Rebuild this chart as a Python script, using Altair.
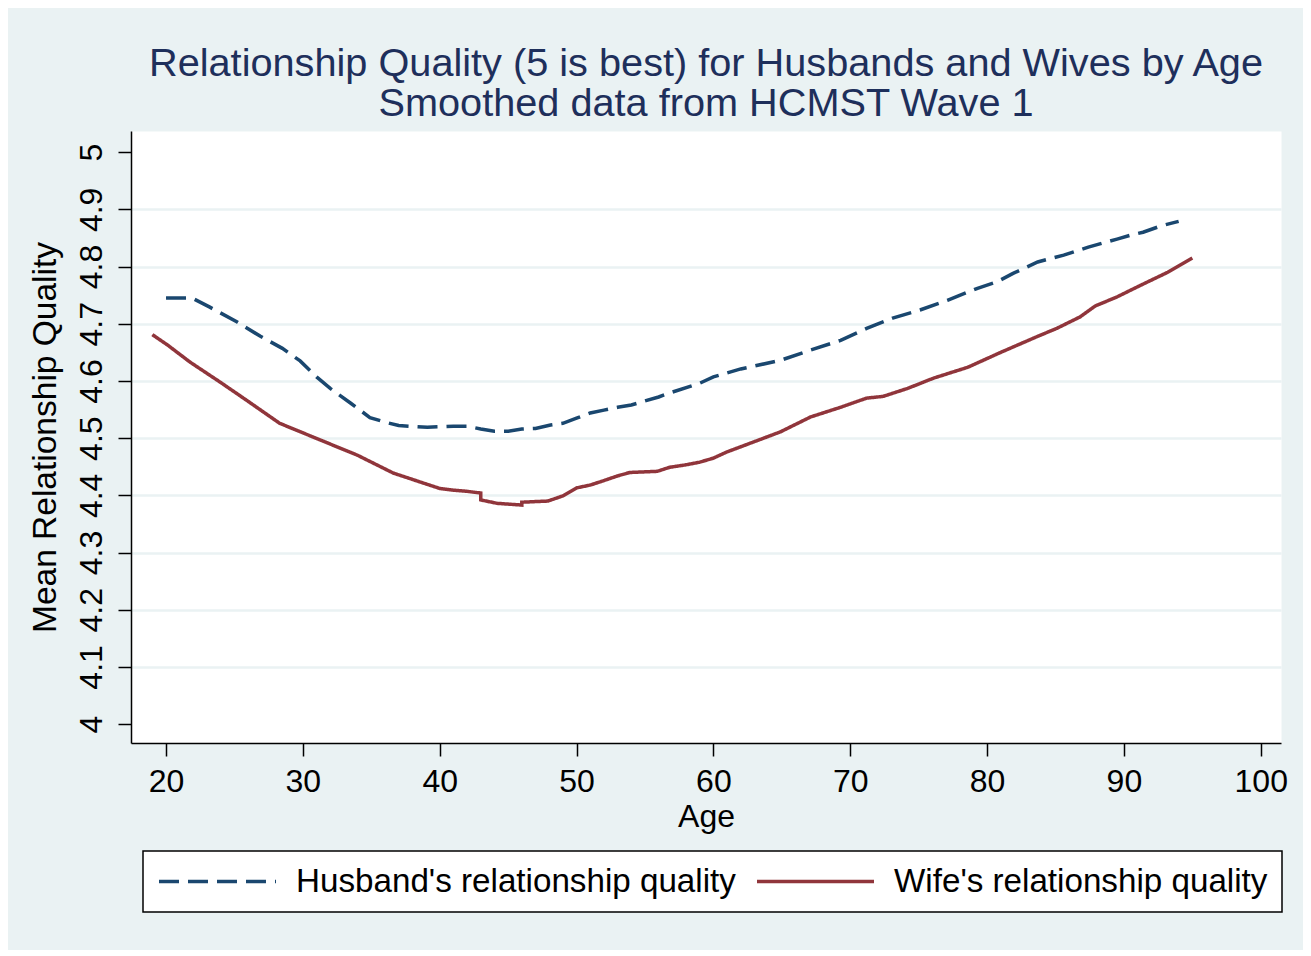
import altair as alt
import pandas as pd

hus_age = [20.0, 21.9, 23.2, 25.2, 26.9, 28.5, 29.8, 31.0, 32.0, 33.5, 34.9, 36.0, 37.0, 39.1,
           41.0, 42.0, 43.0, 44.0, 45.0, 46.0, 47.0, 48.1, 49.0, 50.0, 51.0, 52.0, 53.0, 54.0,
           55.0, 56.0, 56.8, 59.0, 60.0, 62.0, 64.9, 67.1, 69.3, 71.2, 73.1, 75.1, 77.1, 79.3,
           80.7, 81.9, 83.7, 85.6, 87.4, 89.5, 90.5, 91.4, 92.7, 94.0]
hus_q = [4.745, 4.745, 4.729, 4.703, 4.678, 4.657, 4.635, 4.607, 4.587, 4.561, 4.536, 4.528, 4.522, 4.519,
         4.521, 4.521, 4.516, 4.512, 4.512, 4.516, 4.517, 4.523, 4.526, 4.535, 4.544, 4.549, 4.554, 4.558,
         4.565, 4.572, 4.579, 4.596, 4.607, 4.621, 4.636, 4.654, 4.671, 4.692, 4.710, 4.724, 4.741, 4.762,
         4.773, 4.788, 4.808, 4.820, 4.834, 4.848, 4.855, 4.860, 4.871, 4.879]

wife_age = [19.0, 20.1, 21.75, 23.95, 25.9, 28.3, 31.25, 34.0, 36.6, 40.0, 41.0, 42.0, 43.0, 43.0,
            44.2, 46.0, 46.0, 47.9, 49.0, 50.0, 51.0, 51.9, 53.0, 53.9, 55.9, 56.8, 57.9, 59.0,
            60.0, 61.0, 62.9, 64.9, 67.1, 69.3, 71.2, 72.4, 74.2, 76.1, 78.6, 81.0, 83.7, 85.1,
            86.8, 87.9, 89.5, 91.2, 93.2, 95.0]
wife_q = [4.681, 4.663, 4.633, 4.598, 4.566, 4.526, 4.497, 4.470, 4.439, 4.412, 4.409, 4.407, 4.404, 4.392,
          4.386, 4.383, 4.388, 4.390, 4.399, 4.413, 4.418, 4.425, 4.434, 4.440, 4.442, 4.449, 4.453, 4.458,
          4.465, 4.476, 4.493, 4.511, 4.537, 4.554, 4.570, 4.573, 4.587, 4.605, 4.624, 4.650, 4.678, 4.692,
          4.712, 4.731, 4.747, 4.767, 4.790, 4.815]

series_names = ["Husband's relationship quality", "Wife's relationship quality"]
series_colors = ["#1a476f", "#90353b"]
x_ticks = [20, 30, 40, 50, 60, 70, 80, 90, 100]
y_ticks = [4, 4.1, 4.2, 4.3, 4.4, 4.5, 4.6, 4.7, 4.8, 4.9, 5]
title_lines = ["Relationship Quality (5 is best) for Husbands and Wives by Age",
               "Smoothed data from HCMST Wave 1"]

rows = []
for i, (a, q) in enumerate(zip(hus_age, hus_q)):
    rows.append({"age": a, "q": q, "series": series_names[0], "ord": i})
for i, (a, q) in enumerate(zip(wife_age, wife_q)):
    rows.append({"age": a, "q": q, "series": series_names[1], "ord": i})
df = pd.DataFrame(rows)

FONT = "Liberation Sans, Arial, Helvetica, sans-serif"

leg = alt.Legend(title=None, orient="none", legendX=12, legendY=720,
                 direction="horizontal", columns=2)

chart = alt.Chart(df).mark_line(strokeWidth=3.5).encode(
    x=alt.X("age:Q",
            scale=alt.Scale(domain=[17.44, 101.48], nice=False, zero=False),
            axis=alt.Axis(values=x_ticks, title="Age", grid=False, tickSize=13,
                          labelFontSize=32, labelPadding=10, titleFontSize=32,
                          titlePadding=4, labelFlush=False)),
    y=alt.Y("q:Q",
            scale=alt.Scale(domain=[3.967, 5.037], nice=False, zero=False),
            axis=alt.Axis(values=y_ticks, format="~g", title="Mean Relationship Quality",
                          tickSize=13, labelFontSize=32, labelAngle=270,
                          labelAlign="center", labelBaseline="alphabetic", labelPadding=17,
                          titleFontSize=33.5, titlePadding=13, labelFlush=False,
                          grid=True, gridWidth=2.5,
                          gridColor={"condition": {"test": "datum.value <= 4.01 || datum.value >= 4.99",
                                                   "value": "transparent"},
                                     "value": "#eaf2f3"})),
    color=alt.Color("series:N", scale=alt.Scale(domain=series_names, range=series_colors),
                    legend=leg),
    strokeDash=alt.StrokeDash("series:N",
                              scale=alt.Scale(domain=series_names, range=[[20, 9], [1, 0]]),
                              legend=leg),
    order="ord:Q",
).properties(
    width=1150,
    height=612,
    autosize=alt.AutoSizeParams(type="none"),
    padding={"left": 123, "top": 123, "right": 22, "bottom": 207},
    background="#eaf2f3",
    title=alt.TitleParams(text=title_lines, fontSize=39.7, lineHeight=40, color="#1e2f5b",
                          font=FONT, fontWeight="normal", anchor="middle", offset=6),
).configure_view(
    fill="white", stroke="transparent"
).configure_axis(
    labelFont=FONT, titleFont=FONT, labelColor="black", titleColor="black",
    titleFontWeight="normal", domainColor="black", domainWidth=1.5,
    tickColor="black", tickWidth=1.5
).configure_legend(
    labelFont=FONT, labelFontSize=33.2, labelColor="black", labelLimit=800,
    fillColor="white", strokeColor="black", strokeWidth=1.5, padding=14,
    symbolType="stroke", symbolSize=13689, symbolStrokeWidth=3.5, labelOffset=18,
    columnPadding=19, clipHeight=33
)

chart.save("out.html", embed_options={"renderer": "svg", "actions": False})
